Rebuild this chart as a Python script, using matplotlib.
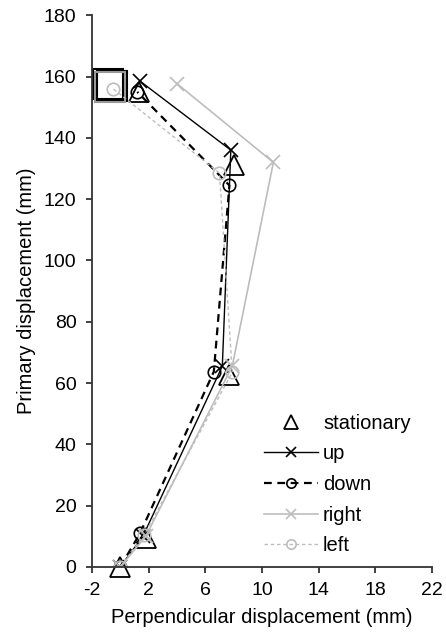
"""
Perpendicular vs primary displacement for each movement condition
"""
import matplotlib
matplotlib.use('Agg')
import matplotlib.pyplot as plt

plt.rcParams['font.family'] = ['Liberation Sans', 'DejaVu Sans']
plt.rcParams['axes.unicode_minus'] = False

stationary_x = [0.0, 1.8, 7.7, 8.0, 1.3]
stationary_y = [0.0, 9.5, 62.5, 131.0, 155.0]
up_x = [0.0, 1.6, 7.2, 7.8, 1.4]
up_y = [0.0, 10.0, 65.5, 136.0, 158.5]
down_x = [0.0, 1.4, 6.6, 7.7, 1.2]
down_y = [0.0, 11.0, 63.7, 124.5, 155.0]
right_x = [0.0, 1.8, 7.9, 10.8, 4.0]
right_y = [0.0, 10.0, 65.5, 132.0, 157.7]
left_x = [0.0, 1.7, 7.9, 7.0, -0.5]
left_y = [0.0, 10.5, 63.5, 128.5, 156.0]

# end-position boxes near the start line
target_x = [-0.85, -0.55, -0.7]
target_y = [157.5, 157.0, 156.5]
target_colors = ['black', 'black', '#999999']

xticks = [-2, 2, 6, 10, 14, 18, 22]
yticks = list(range(0, 181, 20))

gray = '#bdbdbd'

fig = plt.figure(figsize=(4.46, 6.37), dpi=100)
ax = fig.add_axes([0.206, 0.110, 0.763, 0.866])

for tx, ty, tc in zip(target_x, target_y, target_colors):
    ax.plot([tx], [ty], 's', ms=21, mfc='none', mec=tc, mew=1.5, clip_on=False)

ax.plot(stationary_x, stationary_y, '^', ls='none', ms=14, mfc='none', mec='black',
        mew=1.3, label='stationary', clip_on=False)
ax.plot(up_x, up_y, '-', color='black', lw=1.0, marker='x', ms=10, mew=1.2, label='up')
ax.plot(down_x, down_y, color='black', lw=1.6, dashes=(3.5, 2.5), marker='o', ms=9,
        mfc='none', mew=1.2, label='down')
ax.plot(right_x, right_y, '-', color=gray, lw=1.2, marker='x', ms=10, mew=1.2, label='right')
ax.plot(left_x, left_y, color=gray, lw=1.0, dashes=(2.5, 2), marker='o', ms=9,
        mfc='none', mew=1.2, label='left')

ax.set_xlim(-2, 22)
ax.set_ylim(0, 180)
ax.set_xticks(xticks)
ax.set_yticks(yticks)
ax.spines['top'].set_visible(False)
ax.spines['right'].set_visible(False)
for s in ('left', 'bottom'):
    ax.spines[s].set_linewidth(1.3)
    ax.spines[s].set_color('#333333')
ax.tick_params(direction='out', length=4, width=1.3, labelsize=14, color='#333333')
ax.tick_params(axis='y', pad=7)
ax.tick_params(axis='x', pad=7)

ax.set_xlabel('Perpendicular displacement (mm)', fontsize=14.5, labelpad=6)
ax.set_ylabel('Primary displacement (mm)', fontsize=14.5, labelpad=6)

ax.legend(loc='lower right', bbox_to_anchor=(0.99, -0.012), frameon=False, fontsize=14.5,
          handlelength=2.7, labelspacing=0.58, handletextpad=0.25, markerscale=0.75)

fig.savefig('out.png', dpi=100)
